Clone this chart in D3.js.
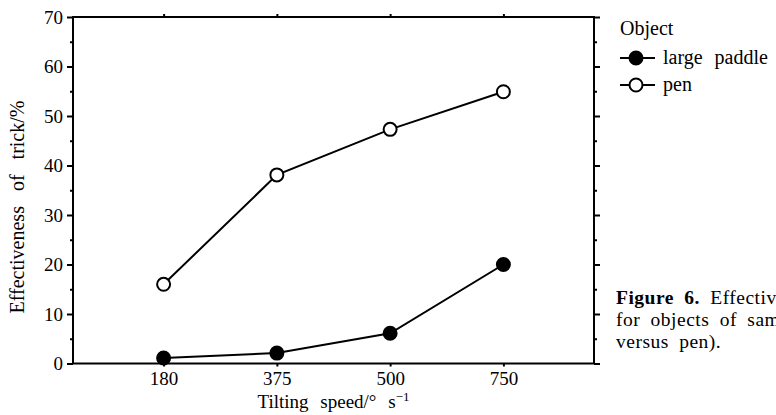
<!DOCTYPE html>
<html>
<head>
<meta charset="utf-8">
<script src="https://cdn.jsdelivr.net/npm/d3@7"></script>
<style>
  html, body { margin: 0; padding: 0; background: #fff; }
  svg { display: block; font-family: "Liberation Serif", "Times New Roman", serif; }
</style>
</head>
<body>
<svg id="chart" width="776" height="415"></svg>
<script>
const categories = ["180", "375", "500", "750"];
const largePaddle = [1.1, 2.1, 6.1, 20.0];
const pen = [16.0, 38.1, 47.3, 54.9];
const yTicks = [0, 10, 20, 30, 40, 50, 60, 70];
const yMinorTicks = [5, 15, 25, 35, 45, 55, 65];
const seriesNames = ["large paddle", "pen"];

const svg = d3.select("#chart");
const pLeft = 73, pRight = 594, pTop = 17, pBottom = 363.5;

const x = d3.scalePoint().domain(categories).range([pLeft, pRight]).padding(0.8);
const y = d3.scaleLinear().domain([0, 70]).range([pBottom, pTop]);

const g = svg.append("g");

// frame
g.append("rect").attr("x", pLeft).attr("y", pTop).attr("width", pRight - pLeft).attr("height", pBottom - pTop)
  .attr("fill", "none").attr("stroke", "#000").attr("stroke-width", 2);

function styleAxis(sel) {
  sel.select(".domain").remove();
  sel.selectAll("line").attr("stroke-width", 2);
  sel.selectAll("text").attr("font-size", 19).attr("font-family", "Liberation Serif").attr("fill", "#000");
}

// left axis
styleAxis(g.append("g").attr("transform", `translate(${pLeft},0)`)
  .call(d3.axisLeft(y).tickValues(yTicks).tickSize(6).tickPadding(4).tickFormat(d3.format("d"))));
styleAxis(g.append("g").attr("transform", `translate(${pLeft},0)`)
  .call(d3.axisLeft(y).tickValues(yMinorTicks).tickSize(3).tickFormat("")));

// right axis
styleAxis(g.append("g").attr("transform", `translate(${pRight},0)`)
  .call(d3.axisRight(y).tickValues(yTicks).tickSize(6).tickFormat("")));
styleAxis(g.append("g").attr("transform", `translate(${pRight},0)`)
  .call(d3.axisRight(y).tickValues(yMinorTicks).tickSize(3).tickFormat("")));

// bottom axis
styleAxis(g.append("g").attr("transform", `translate(0,${pBottom})`)
  .call(d3.axisBottom(x).tickSize(3).tickPadding(5)));

// top axis
styleAxis(g.append("g").attr("transform", `translate(0,${pTop})`)
  .call(d3.axisTop(x).tickSize(3).tickFormat("")));

// axis titles
const xTitle = svg.append("text").attr("x", (pLeft + pRight) / 2).attr("y", 408)
  .attr("text-anchor", "middle").attr("font-size", 19).attr("word-spacing", 7);
xTitle.append("tspan").text("Tilting speed/° s");
xTitle.append("tspan").attr("font-size", 13).attr("dy", -7).text("−1");

svg.append("text").attr("transform", `translate(24,207) rotate(-90)`)
  .attr("text-anchor", "middle").attr("font-size", 20).attr("word-spacing", 10)
  .text("Effectiveness of trick/%");

// series
const line = d3.line().x((d, i) => x(categories[i])).y(d => y(d));
const series = [
  { name: seriesNames[0], values: largePaddle, fill: "#000" },
  { name: seriesNames[1], values: pen, fill: "#fff" }
];
series.forEach(s => {
  svg.append("path").datum(s.values).attr("d", line)
    .attr("fill", "none").attr("stroke", "#000").attr("stroke-width", 2);
  svg.selectAll(null).data(s.values).enter().append("circle")
    .attr("cx", (d, i) => x(categories[i])).attr("cy", d => y(d)).attr("r", 6.5)
    .attr("fill", s.fill).attr("stroke", "#000").attr("stroke-width", 2);
});

// legend
svg.append("text").attr("x", 620).attr("y", 35).attr("font-size", 20).text("Object");
series.forEach((s, i) => {
  const ly = 58 + i * 27;
  svg.append("line").attr("x1", 620).attr("x2", 655).attr("y1", ly).attr("y2", ly)
    .attr("stroke", "#000").attr("stroke-width", 2);
  svg.append("circle").attr("cx", 636).attr("cy", ly).attr("r", 6.5)
    .attr("fill", s.fill).attr("stroke", "#000").attr("stroke-width", 2);
  svg.append("text").attr("x", 663).attr("y", ly + 6).attr("font-size", 20).attr("word-spacing", 7).text(s.name);
});

// caption
const cap = svg.append("text").attr("font-size", 19.5).attr("letter-spacing", 0.5).attr("word-spacing", 5);
const l1 = cap.append("tspan").attr("x", 616).attr("y", 304);
l1.append("tspan").attr("font-weight", "bold").text("Figure 6.");
l1.append("tspan").text(" Effectiveness of trick");
cap.append("tspan").attr("x", 616).attr("y", 326).text("for objects of same size (large paddle");
cap.append("tspan").attr("x", 616).attr("y", 348).text("versus pen).");
</script>
</body>
</html>
